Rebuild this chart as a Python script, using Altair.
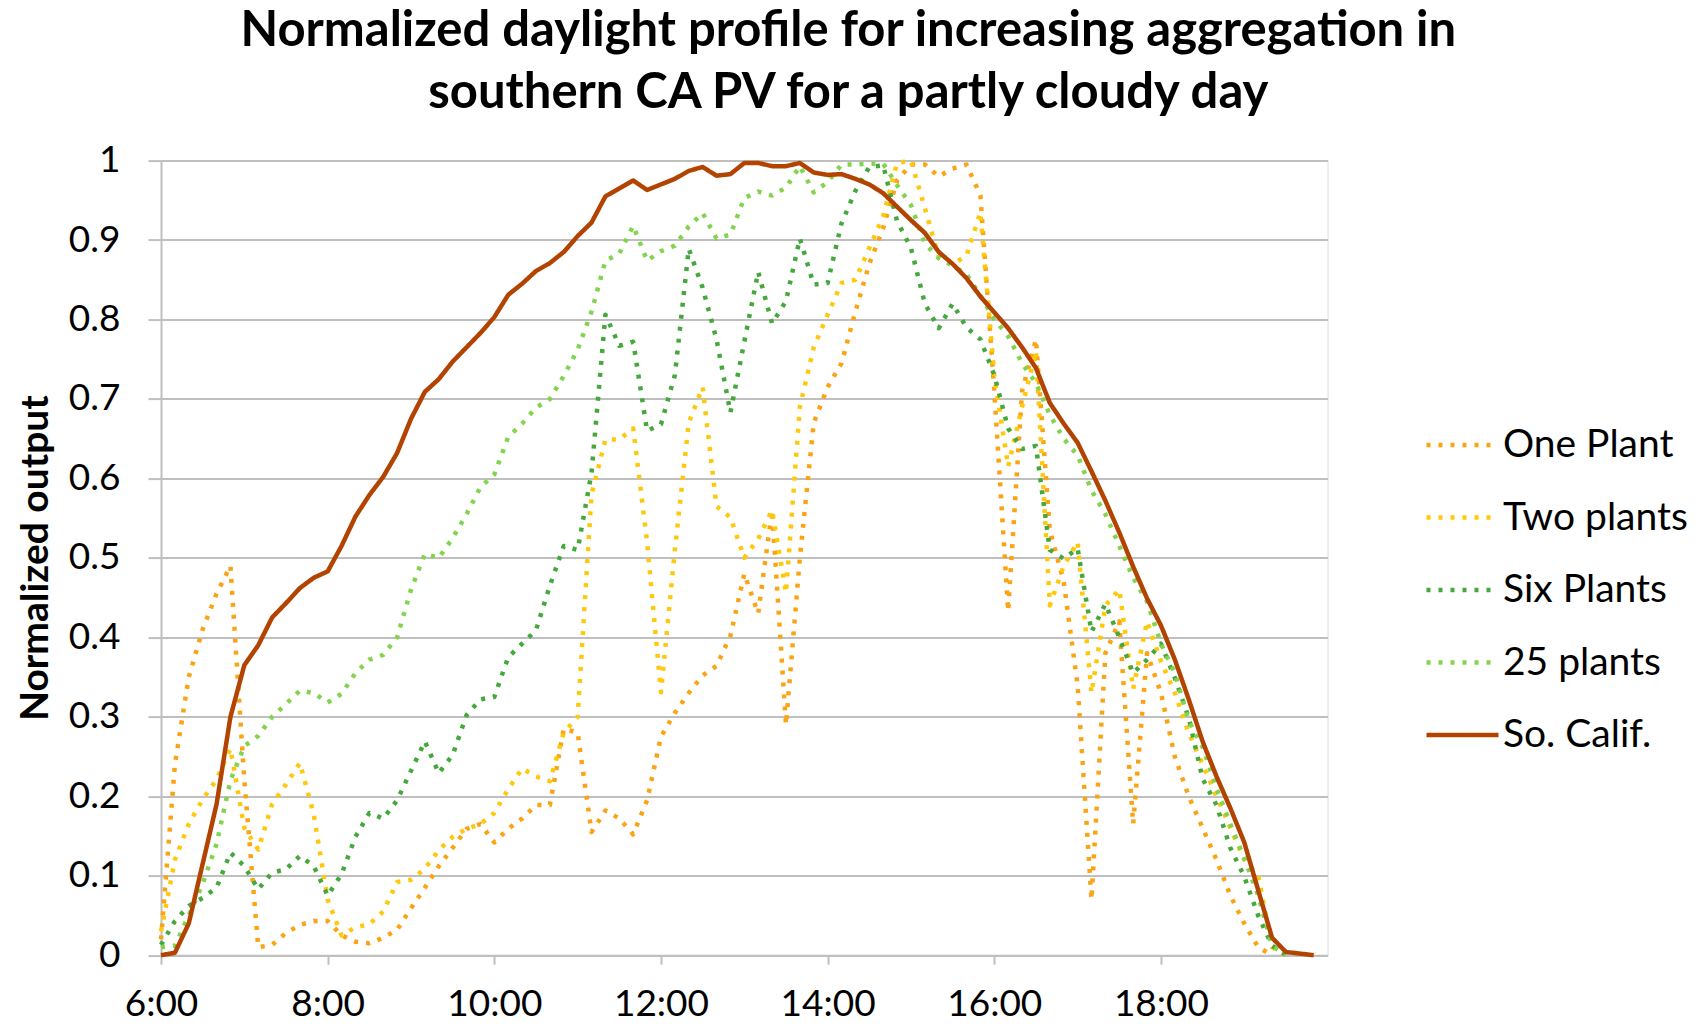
import altair as alt
import pandas as pd

# 10-minute steps from 6:00 to 19:50 (one row per hour)
series_names = ["One Plant", "Two plants", "Six Plants", "25 plants", "So. Calif."]
series_colors = ["#FBA313", "#FFC80A", "#45A83C", "#82D44E", "#B24300"]

one_plant = [
    0.020, 0.240, 0.350, 0.410, 0.455, 0.490,
    0.220, 0.010, 0.013, 0.028, 0.038, 0.043,
    0.043, 0.025, 0.017, 0.015, 0.022, 0.032,
    0.059, 0.085, 0.112, 0.135, 0.159, 0.165,
    0.142, 0.159, 0.172, 0.189, 0.189, 0.285,
    0.280, 0.155, 0.182, 0.172, 0.152, 0.195,
    0.275, 0.305, 0.330, 0.352, 0.364, 0.402,
    0.480, 0.430, 0.560, 0.290, 0.500, 0.670,
    0.715, 0.745, 0.810, 0.870, 0.915, 0.975,
    0.995, 0.995, 0.980, 0.990, 0.995, 0.956,
    0.710, 0.433, 0.710, 0.775, 0.535, 0.470,
    0.340, 0.070, 0.380, 0.420, 0.165, 0.380,
    0.330, 0.250, 0.200, 0.160, 0.120, 0.075,
    0.040, 0.010, 0.000, None, None, None,
]

two_plants = [
    0.030, 0.120, 0.165, 0.196, 0.221, 0.260,
    0.160, 0.133, 0.190, 0.215, 0.242, 0.177,
    0.070, 0.025, 0.035, 0.039, 0.055, 0.092,
    0.095, 0.109, 0.132, 0.149, 0.159, 0.165,
    0.179, 0.209, 0.235, 0.225, 0.219, 0.280,
    0.300, 0.580, 0.649, 0.649, 0.663, 0.520,
    0.331, 0.510, 0.670, 0.715, 0.565, 0.551,
    0.500, 0.524, 0.560, 0.456, 0.690, 0.765,
    0.806, 0.846, 0.850, 0.890, 0.930, 0.997,
    1.000, 0.940, 0.879, 0.870, 0.880, 0.935,
    0.730, 0.615, 0.690, 0.760, 0.440, 0.490,
    0.520, 0.330, 0.440, 0.460, 0.335, 0.420,
    0.370, 0.330, 0.280, 0.240, 0.200, 0.160,
    0.120, 0.100, 0.010, 0.000, None, None,
]

six_plants = [
    0.013, 0.043, 0.062, 0.072, 0.085, 0.129,
    0.112, 0.083, 0.104, 0.108, 0.125, 0.112,
    0.075, 0.102, 0.149, 0.179, 0.172, 0.195,
    0.232, 0.269, 0.229, 0.252, 0.302, 0.322,
    0.325, 0.375, 0.392, 0.409, 0.465, 0.515,
    0.510, 0.607, 0.806, 0.767, 0.772, 0.660,
    0.668, 0.730, 0.889, 0.840, 0.775, 0.683,
    0.772, 0.860, 0.795, 0.823, 0.902, 0.844,
    0.846, 0.921, 0.962, 0.992, 0.994, 0.924,
    0.890, 0.820, 0.789, 0.820, 0.790, 0.775,
    0.730, 0.663, 0.637, 0.641, 0.510, 0.499,
    0.512, 0.407, 0.442, 0.400, 0.355, 0.372,
    0.392, 0.349, 0.299, 0.222, 0.189, 0.135,
    0.099, 0.050, 0.012, 0.000, None, None,
]

plants_25 = [
    0.010, 0.012, 0.050, 0.090, 0.140, 0.220,
    0.263, 0.276, 0.300, 0.316, 0.333, 0.330,
    0.318, 0.329, 0.355, 0.372, 0.378, 0.400,
    0.460, 0.505, 0.500, 0.525, 0.555, 0.589,
    0.605, 0.652, 0.669, 0.689, 0.700, 0.729,
    0.762, 0.810, 0.874, 0.883, 0.918, 0.874,
    0.886, 0.893, 0.917, 0.934, 0.902, 0.907,
    0.953, 0.961, 0.956, 0.966, 0.993, 0.960,
    0.973, 0.995, 0.995, 0.996, 0.996, 0.969,
    0.944, 0.896, 0.877, 0.868, 0.857, 0.830,
    0.800, 0.779, 0.745, 0.720, 0.680, 0.650,
    0.629, 0.585, 0.555, 0.515, 0.475, 0.445,
    0.392, 0.355, 0.295, 0.262, 0.210, 0.165,
    0.122, 0.075, 0.012, 0.000, None, None,
]

so_calif = [
    0.000, 0.003, 0.040, 0.115, 0.190, 0.300,
    0.365, 0.390, 0.425, 0.443, 0.462, 0.475,
    0.483, 0.515, 0.552, 0.579, 0.602, 0.632,
    0.675, 0.709, 0.725, 0.747, 0.765, 0.783,
    0.803, 0.831, 0.845, 0.861, 0.871, 0.885,
    0.905, 0.922, 0.955, 0.965, 0.975, 0.963,
    0.970, 0.977, 0.987, 0.992, 0.981, 0.983,
    0.997, 0.997, 0.993, 0.993, 0.997, 0.985,
    0.982, 0.983, 0.977, 0.970, 0.959, 0.942,
    0.925, 0.909, 0.885, 0.870, 0.852, 0.829,
    0.809, 0.789, 0.765, 0.739, 0.695, 0.669,
    0.645, 0.609, 0.572, 0.532, 0.489, 0.449,
    0.415, 0.372, 0.322, 0.269, 0.225, 0.185,
    0.142, 0.082, 0.022, 0.004, 0.002, 0.000,
]

hours = [6 + i / 6 for i in range(len(so_calif))]
x_tick_values = [6, 8, 10, 12, 14, 16, 18]
y_tick_values = [0, 0.1, 0.2, 0.3, 0.4, 0.5, 0.6, 0.7, 0.8, 0.9, 1]

rows = []
for name, vals in zip(series_names, [one_plant, two_plants, six_plants, plants_25, so_calif]):
    for h, v in zip(hours, vals):
        if v is not None:
            rows.append({"series": name, "hour": h, "value": v})
df = pd.DataFrame(rows)

dashes = [[4, 8], [4, 8], [4, 8], [4, 8], [1, 0]]
widths = [4.5, 4.5, 4.5, 4.5, 5.5]
GRID = "#BFBFBF"

leg = dict(
    title=None, orient="none", legendX=1263, legendY=246, direction="vertical",
    symbolType="stroke", symbolSize=5184, labelFont="Lato", labelFontSize=39,
    labelColor="#000000", labelOffset=2, rowPadding=13.5, padding=0, labelLimit=400,
)

chart = alt.Chart(df).mark_line(strokeCap="butt", strokeJoin="round").encode(
    x=alt.X("hour:Q", scale=alt.Scale(domain=[6, 20], nice=False, zero=False),
            axis=alt.Axis(values=x_tick_values, labelExpr="datum.value + ':00'", grid=False,
                          title=None, labelFont="Lato", labelFontSize=37, labelColor="#000000",
                          tickSize=9, tickWidth=2, tickColor=GRID, domainColor=GRID,
                          domainWidth=2, labelPadding=22, labelFlush=False)),
    y=alt.Y("value:Q", scale=alt.Scale(domain=[0, 1], nice=False),
            axis=alt.Axis(values=y_tick_values, format=".1~f", grid=True, gridColor=GRID,
                          gridWidth=2, tickSize=13, tickWidth=2, tickColor=GRID,
                          domainColor=GRID, domainWidth=2, labelFont="Lato",
                          labelFontSize=37, labelColor="#000000", labelPadding=28,
                          title="Normalized output", titleFont="Lato", titleFontSize=39,
                          titleFontWeight="bold", titleColor="#000000", titleX=-126,
                          titleY=397, titleAlign="center", titleBaseline="middle")),
    color=alt.Color("series:N", scale=alt.Scale(domain=series_names, range=series_colors),
                    legend=alt.Legend(**leg)),
    strokeDash=alt.StrokeDash("series:N", scale=alt.Scale(domain=series_names, range=dashes),
                              legend=alt.Legend(**leg)),
    strokeWidth=alt.StrokeWidth("series:N", scale=alt.Scale(domain=series_names, range=widths),
                                legend=alt.Legend(**leg)),
    order=alt.Order("hour:Q"),
).properties(
    width=1166.6, height=794.6,
    autosize=alt.AutoSizeParams(type="none"),
    padding={"left": 153, "top": 152.6, "right": 366, "bottom": 63},
    title=alt.TitleParams(
        text=["Normalized daylight profile for increasing aggregation in",
              "southern CA PV for a partly cloudy day"],
        font="Lato", fontSize=49, fontWeight="bold", color="#000000",
        lineHeight=62, anchor="middle", frame="group", dx=104, offset=24,
    ),
).configure_view(stroke=None).configure(background="white")

chart.save("out.html", embed_options={"renderer": "svg", "actions": False})
